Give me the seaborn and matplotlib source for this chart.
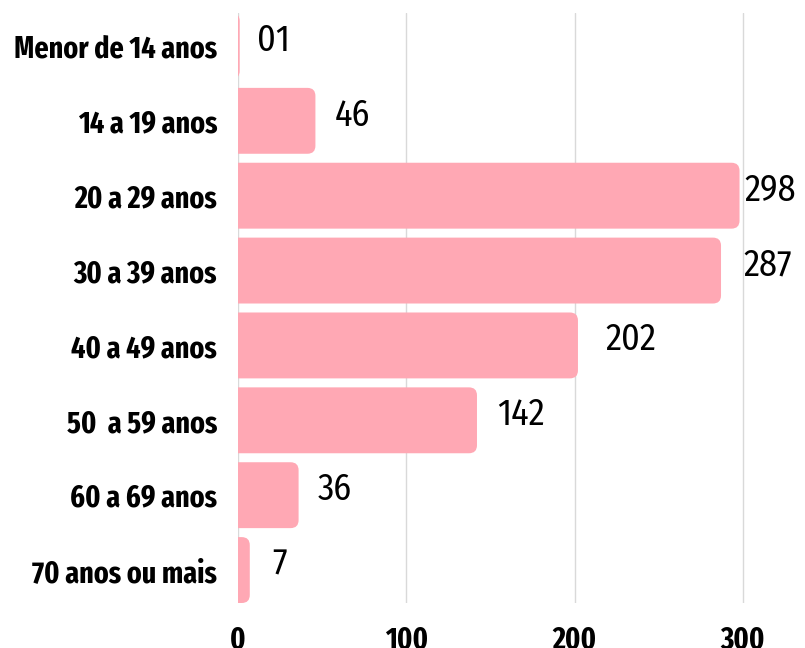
import matplotlib
matplotlib.use("Agg")
from matplotlib import pyplot as plt
from matplotlib.patches import FancyBboxPatch
import seaborn as sns
import pandas as pd

categories = ["Menor de 14 anos", "14 a 19 anos", "20 a 29 anos", "30 a 39 anos",
              "40 a 49 anos", "50  a 59 anos", "60 a 69 anos", "70 anos ou mais"]
values = [1, 46, 298, 287, 202, 142, 36, 7]
value_labels = ["01", "46", "298", "287", "202", "142", "36", "7"]
# gap between bar end and its label, in pixels (as in the original)
label_gaps = [17, 19, 5, 22, 27, 20, 19, 22]
xticks = [0, 100, 200, 300]

BAR_COLOR = "#ffa8b4"
LABEL_FONT = "Fira Sans Extra Condensed"
VALUE_FONT = "Fira Sans Condensed"

df = pd.DataFrame({"faixa": categories, "n": values})

sns.set_theme(style="white")
plt.rcParams["font.family"] = [VALUE_FONT, "DejaVu Sans"]

fig = plt.figure(figsize=(8.05, 6.48), dpi=100)
ax = fig.add_axes([238 / 805, 1 - 603 / 648, 1 - 238 / 805, (603 - 13) / 648])

sns.barplot(data=df, y="faixa", x="n", orient="h", color=BAR_COLOR,
            saturation=1, width=0.88, ax=ax, zorder=2)

ax.set_xlim(0, 336.9)
ax.set_ylim(7.44, -0.44)

# px -> data scale for rounded corners
px_x = 336.9 / (805 - 238)
px_y = 7.88 / (603 - 13)
r = 8 * px_x
for p in list(ax.patches):
    x0, y0, w, h = p.get_x(), p.get_y(), p.get_width(), p.get_height()
    p.remove()
    ax.add_patch(FancyBboxPatch(
        (x0 - 2 * r, y0), w + 2 * r, h,
        boxstyle=f"round,pad=0,rounding_size={r}",
        mutation_aspect=px_y / px_x,
        facecolor=BAR_COLOR, edgecolor="none", zorder=2))

for i, (v, lbl, gap) in enumerate(zip(values, value_labels, label_gaps)):
    ax.annotate(lbl, (v, i), xytext=(gap * 0.72, 4), textcoords="offset points",
                ha="left", va="center", fontsize=26, color="black",
                fontfamily=VALUE_FONT, annotation_clip=False)

ax.set_xticks(xticks)
ax.grid(axis="x", color="#d9d9d9", linewidth=1, zorder=0)
ax.grid(axis="y", visible=False)
ax.set_axisbelow(True)
for s in ax.spines.values():
    s.set_visible(False)
ax.tick_params(axis="both", length=0)
ax.tick_params(axis="y", pad=15)
ax.tick_params(axis="x", pad=16)
for t in ax.get_yticklabels() + ax.get_xticklabels():
    t.set_fontfamily(LABEL_FONT)
    t.set_fontweight("bold")
    t.set_fontsize(22)
    t.set_color("black")
ax.set_xlabel("")
ax.set_ylabel("")

fig.savefig("out.png", dpi=100)
